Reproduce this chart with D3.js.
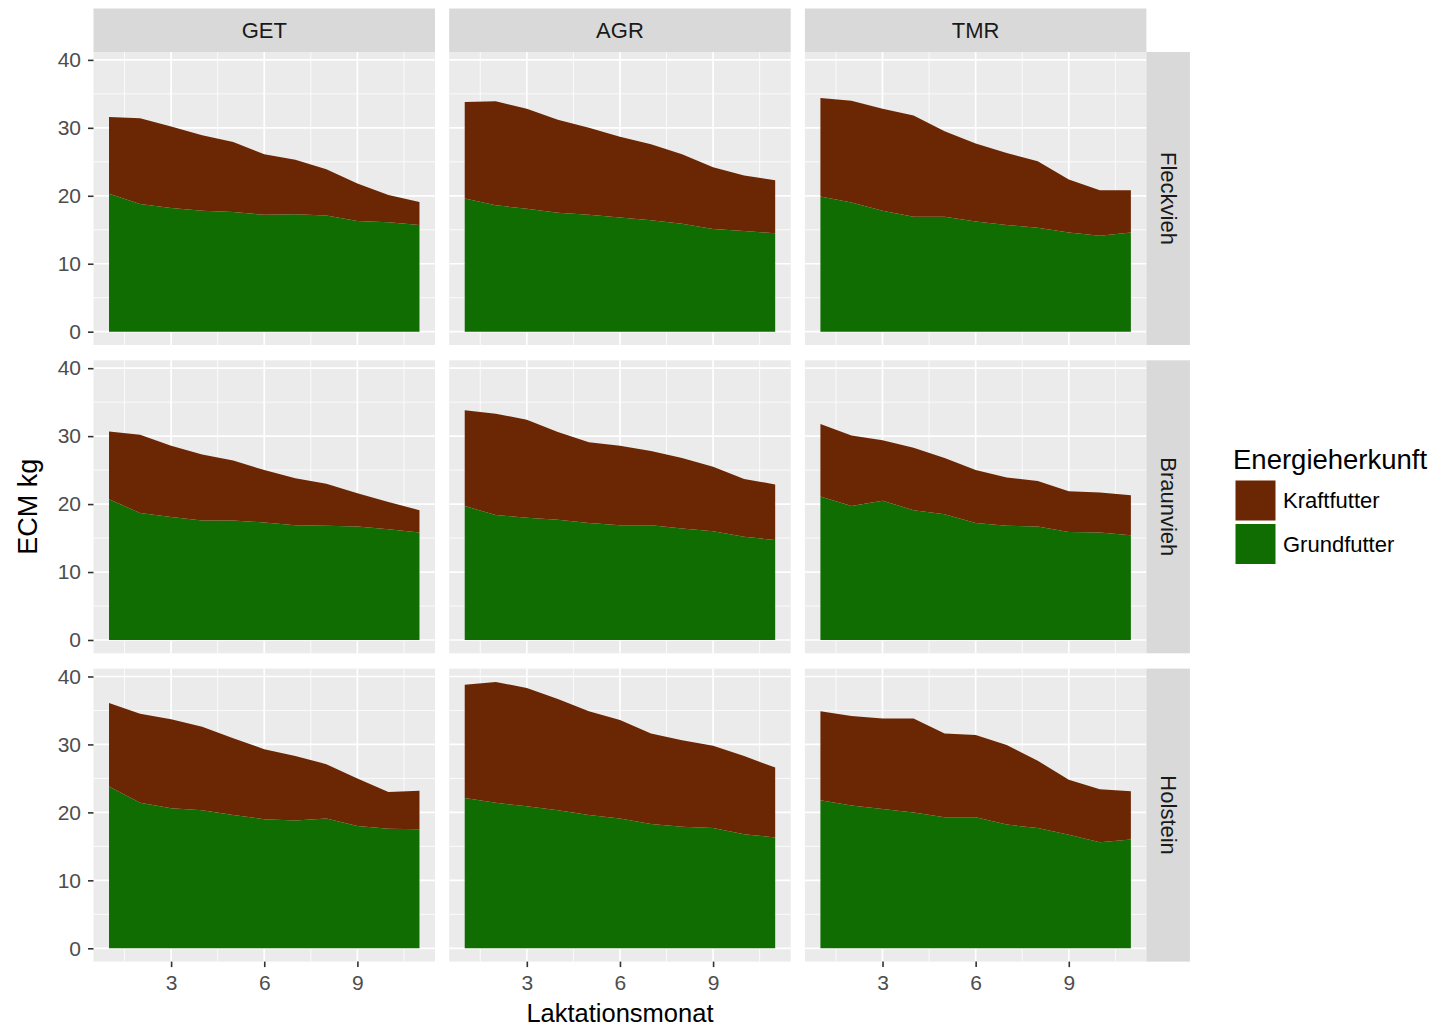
<!DOCTYPE html>
<html>
<head>
<meta charset="utf-8">
<script src="https://cdn.jsdelivr.net/npm/d3@7"></script>
<style>
  html, body { margin: 0; padding: 0; background: #ffffff; }
  svg { display: block; font-family: "Liberation Sans", Arial, Helvetica, sans-serif; }
</style>
</head>
<body>
<svg id="chart" width="1439" height="1029"></svg>
<script>
// ---------- data ----------
const months = [1, 2, 3, 4, 5, 6, 7, 8, 9, 10, 11];
const systems = ["GET", "AGR", "TMR"];
const breeds = ["Fleckvieh", "Braunvieh", "Holstein"];
const seriesKeys = ["Grundfutter", "Kraftfutter"];      // stacking order (bottom first)
const legendKeys = ["Kraftfutter", "Grundfutter"];      // legend order
const xTicks = [3, 6, 9];
const yTicks = [0, 10, 20, 30, 40];

// Grundfutter (ECM kg) per system [GET, AGR, TMR]
const grundFleckvieh = [
  [20.3, 18.8, 18.2, 17.8, 17.6, 17.2, 17.3, 17.1, 16.3, 16.1, 15.7],
  [19.6, 18.6, 18.1, 17.5, 17.2, 16.8, 16.4, 15.9, 15.1, 14.8, 14.5],
  [19.9, 19.0, 17.8, 16.9, 16.9, 16.2, 15.7, 15.3, 14.6, 14.1, 14.6]
];
const grundBraunvieh = [
  [20.7, 18.7, 18.1, 17.6, 17.6, 17.3, 16.9, 16.8, 16.7, 16.3, 15.8],
  [19.7, 18.4, 18.0, 17.7, 17.2, 16.9, 16.9, 16.4, 16.0, 15.2, 14.7],
  [21.1, 19.7, 20.5, 19.1, 18.5, 17.2, 16.8, 16.7, 15.9, 15.8, 15.4]
];
const grundHolstein = [
  [23.8, 21.4, 20.6, 20.3, 19.6, 19.0, 18.8, 19.1, 18.0, 17.6, 17.5],
  [22.1, 21.4, 20.9, 20.3, 19.6, 19.1, 18.3, 17.9, 17.7, 16.8, 16.3],
  [21.8, 21.0, 20.5, 20.0, 19.3, 19.3, 18.2, 17.7, 16.7, 15.6, 16.0]
];
// Kraftfutter (ECM kg) per system [GET, AGR, TMR]
const kraftFleckvieh = [
  [11.3, 12.6, 12.0, 11.1, 10.3, 8.9, 8.0, 6.8, 5.5, 4.0, 3.4],
  [14.2, 15.3, 14.7, 13.7, 12.8, 11.9, 11.2, 10.2, 9.1, 8.2, 7.8],
  [14.5, 15.0, 15.0, 14.9, 12.6, 11.5, 10.6, 9.8, 7.8, 6.7, 6.2]
];
const kraftBraunvieh = [
  [10.0, 11.5, 10.5, 9.7, 8.8, 7.7, 6.9, 6.2, 4.9, 4.0, 3.3],
  [14.1, 14.9, 14.4, 12.9, 11.9, 11.7, 10.9, 10.4, 9.5, 8.5, 8.2],
  [10.7, 10.4, 8.9, 9.2, 8.3, 7.8, 7.1, 6.7, 6.0, 5.9, 5.9]
];
const kraftHolstein = [
  [12.3, 13.1, 13.1, 12.3, 11.3, 10.3, 9.5, 8.0, 7.0, 5.4, 5.7],
  [16.7, 17.8, 17.4, 16.4, 15.3, 14.5, 13.3, 12.7, 12.1, 11.5, 10.3],
  [13.1, 13.2, 13.3, 13.8, 12.3, 12.1, 11.7, 9.9, 8.1, 7.8, 7.1]
];

const grundByBreed = { Fleckvieh: grundFleckvieh, Braunvieh: grundBraunvieh, Holstein: grundHolstein };
const kraftByBreed = { Fleckvieh: kraftFleckvieh, Braunvieh: kraftBraunvieh, Holstein: kraftHolstein };

// ---------- style / layout ----------
const colors = { Kraftfutter: "#6b2603", Grundfutter: "#106d02" };
const panelBg = "#ebebeb";
const stripBg = "#d9d9d9";
const panelLeft0 = 93.5, panelTop0 = 52;
const panelW = 341.5, panelH = 293;
const colStep = 355.7, rowStep = 308.3;
const stripH = 43.5, stripW = 43.5;
const FONT = "'Liberation Sans', Arial, sans-serif";

const svg = d3.select("#chart");

// build tables
const panels = [];
breeds.forEach((b, ri) => {
  systems.forEach((s, ci) => {
    const rows = months.map((m, i) => ({
      month: m,
      Grundfutter: grundByBreed[b][ci][i],
      Kraftfutter: kraftByBreed[b][ci][i]
    }));
    panels.push({ breed: b, system: s, ri, ci, rows, stacked: d3.stack().keys(seriesKeys)(rows) });
  });
});

const yMax = d3.max(panels, p => d3.max(p.stacked[p.stacked.length - 1], d => d[1]));
const yMin = 0;
const yPad = (yMax - yMin) * 0.05;
const xMin = d3.min(months), xMax = d3.max(months);
const xPad = (xMax - xMin) * 0.05;

const x = d3.scaleLinear().domain([xMin - xPad, xMax + xPad]).range([0, panelW]);
const y = d3.scaleLinear().domain([yMin - yPad, yMax + yPad]).range([panelH, 0]);

const xMinor = [1.5, 4.5, 7.5, 10.5];
const yMinor = [5, 15, 25, 35];

const area = d3.area()
  .x(d => x(d.data.month))
  .y0(d => y(d[0]))
  .y1(d => y(d[1]));

panels.forEach(p => {
  const px = panelLeft0 + p.ci * colStep;
  const py = panelTop0 + p.ri * rowStep;
  const g = svg.append("g").attr("transform", `translate(${px},${py})`);

  g.append("rect").attr("width", panelW).attr("height", panelH).attr("fill", panelBg);

  // minor grid
  g.selectAll(".ymin").data(yMinor).enter().append("line")
    .attr("x1", 0).attr("x2", panelW)
    .attr("y1", d => y(d)).attr("y2", d => y(d))
    .attr("stroke", "#fff").attr("stroke-width", 0.8);
  g.selectAll(".xmin").data(xMinor).enter().append("line")
    .attr("y1", 0).attr("y2", panelH)
    .attr("x1", d => x(d)).attr("x2", d => x(d))
    .attr("stroke", "#fff").attr("stroke-width", 0.8);
  // major grid
  g.selectAll(".ymaj").data(yTicks).enter().append("line")
    .attr("x1", 0).attr("x2", panelW)
    .attr("y1", d => y(d)).attr("y2", d => y(d))
    .attr("stroke", "#fff").attr("stroke-width", 1.7);
  g.selectAll(".xmaj").data(xTicks).enter().append("line")
    .attr("y1", 0).attr("y2", panelH)
    .attr("x1", d => x(d)).attr("x2", d => x(d))
    .attr("stroke", "#fff").attr("stroke-width", 1.7);

  // areas
  g.selectAll(".area").data(p.stacked).enter().append("path")
    .attr("d", area)
    .attr("fill", d => colors[d.key]);

  // top strip
  if (p.ri === 0) {
    const sg = svg.append("g").attr("transform", `translate(${px},${panelTop0 - stripH})`);
    sg.append("rect").attr("width", panelW).attr("height", stripH).attr("fill", stripBg);
    sg.append("text").attr("x", panelW / 2).attr("y", stripH / 2)
      .attr("text-anchor", "middle").attr("dominant-baseline", "central")
      .attr("font-size", 22).attr("fill", "#1a1a1a").text(p.system);
  }
  // right strip
  if (p.ci === systems.length - 1) {
    const sg = svg.append("g").attr("transform", `translate(${px + panelW},${py})`);
    sg.append("rect").attr("width", stripW).attr("height", panelH).attr("fill", stripBg);
    sg.append("text")
      .attr("transform", `translate(${stripW / 2},${panelH / 2}) rotate(90)`)
      .attr("text-anchor", "middle").attr("dominant-baseline", "central")
      .attr("font-size", 22).attr("fill", "#1a1a1a").text(p.breed);
  }
  // y axis (left column)
  if (p.ci === 0) {
    const ax = g.append("g").call(d3.axisLeft(y).tickValues(yTicks).tickSize(5.5).tickPadding(7).tickFormat(d3.format("d")));
    ax.select(".domain").remove();
    ax.selectAll(".tick line").attr("stroke", "#333").attr("stroke-width", 1.6);
    ax.selectAll(".tick text").attr("fill", "#4d4d4d").attr("font-size", 21)
      .attr("font-family", FONT);
  }
  // x axis (bottom row)
  if (p.ri === breeds.length - 1) {
    const ax = g.append("g").attr("transform", `translate(0,${panelH})`)
      .call(d3.axisBottom(x).tickValues(xTicks).tickSize(5.5).tickPadding(8).tickFormat(d3.format("d")));
    ax.select(".domain").remove();
    ax.selectAll(".tick line").attr("stroke", "#333").attr("stroke-width", 1.6);
    ax.selectAll(".tick text").attr("fill", "#4d4d4d").attr("font-size", 21)
      .attr("font-family", FONT);
  }
});

const plotLeft = panelLeft0;
const plotRight = panelLeft0 + (systems.length - 1) * colStep + panelW;
const plotTop = panelTop0;
const plotBottom = panelTop0 + (breeds.length - 1) * rowStep + panelH;

// axis titles
svg.append("text")
  .attr("x", (plotLeft + plotRight) / 2).attr("y", 1013)
  .attr("text-anchor", "middle").attr("dominant-baseline", "central")
  .attr("font-size", 25.5).attr("fill", "#000")
  .text("Laktationsmonat");
svg.append("text")
  .attr("transform", `translate(37,${(plotTop + plotBottom) / 2}) rotate(-90)`)
  .attr("text-anchor", "middle").attr("font-size", 27).attr("fill", "#000")
  .text("ECM kg");

// legend
const lg = svg.append("g").attr("transform", "translate(1234,0)");
lg.append("text").attr("x", -1).attr("y", 469).attr("font-size", 27.5).attr("fill", "#000")
  .text("Energieherkunft");
lg.selectAll(".key").data(legendKeys).enter().append("rect")
  .attr("x", 1.5).attr("y", (d, i) => 480.5 + i * 43.5)
  .attr("width", 40).attr("height", 40)
  .attr("fill", d => colors[d]);
lg.selectAll(".lab").data(legendKeys).enter().append("text")
  .attr("x", 49).attr("y", (d, i) => 500.5 + i * 43.5)
  .attr("dominant-baseline", "central")
  .attr("font-size", 22).attr("fill", "#000")
  .text(d => d);
</script>
</body>
</html>
